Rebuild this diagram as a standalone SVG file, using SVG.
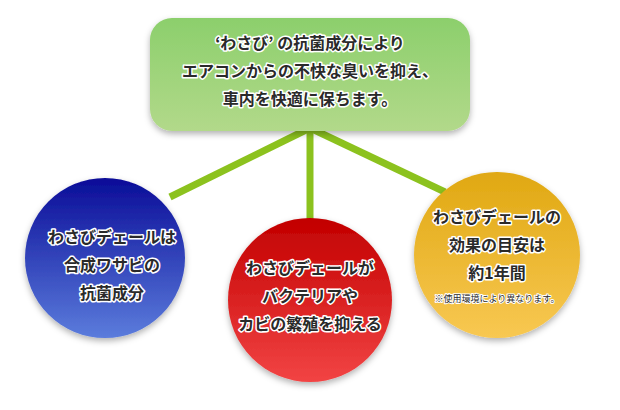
<svg xmlns="http://www.w3.org/2000/svg" width="620" height="410" viewBox="0 0 620 410">
<defs>
<linearGradient id="gG" x1="0" y1="0" x2="0" y2="1"><stop offset="0" stop-color="#8ccf6c"/><stop offset="1" stop-color="#b2d98a"/></linearGradient>
<linearGradient id="gB" x1="0" y1="0" x2="0" y2="1"><stop offset="0" stop-color="#0a0c98"/><stop offset="1" stop-color="#5b7cdc"/></linearGradient>
<linearGradient id="gR" x1="0" y1="0" x2="0" y2="1"><stop offset="0" stop-color="#c20000"/><stop offset="1" stop-color="#f24444"/></linearGradient>
<linearGradient id="gY" x1="0" y1="0" x2="0" y2="1"><stop offset="0" stop-color="#e0a812"/><stop offset="1" stop-color="#f8c852"/></linearGradient>
<filter id="sh" x="-20%" y="-20%" width="140%" height="150%"><feDropShadow dx="0" dy="3" stdDeviation="3" flood-color="#000" flood-opacity="0.3"/></filter>
</defs>
<style>
text{font-family:"Noto Sans CJK JP","Noto Sans CJK SC",sans-serif;font-weight:bold;fill:#2a2a2a;text-anchor:middle;stroke:#fff;stroke-width:3;paint-order:stroke;stroke-linejoin:round}
.t{font-size:16px}
.s{font-size:9px;stroke-width:2;font-weight:normal}
.c{stroke:#8cc21e;stroke-width:7;fill:none}
</style>
<g id="connectors">
<line class="c" x1="310" y1="128" x2="170" y2="197"/>
<line class="c" x1="310" y1="128" x2="310" y2="220"/>
<line class="c" x1="310" y1="128" x2="445" y2="192"/>
</g>
<g id="top">
<rect x="150" y="18" width="320" height="113" rx="22" fill="url(#gG)" filter="url(#sh)"/>
<text class="t" x="310" y="49">‘わさび’ の抗菌成分により</text>
<text class="t" x="310" y="77">エアコンからの不快な臭いを抑え、</text>
<text class="t" x="310" y="105">車内を快適に保ちます。</text>
</g>
<g id="blue">
<circle cx="105" cy="258" r="80" fill="url(#gB)" filter="url(#sh)"/>
<text class="t" x="112" y="243">わさびデェールは</text>
<text class="t" x="112" y="271">合成ワサビの</text>
<text class="t" x="112" y="299">抗菌成分</text>
</g>
<g id="red">
<circle cx="310" cy="300" r="82" fill="url(#gR)" filter="url(#sh)"/>
<text class="t" x="310" y="274">わさびデェールが</text>
<text class="t" x="310" y="302">バクテリアや</text>
<text class="t" x="310" y="330">カビの繁殖を抑える</text>
</g>
<g id="yellow">
<circle cx="497" cy="255" r="83" fill="url(#gY)" filter="url(#sh)"/>
<text class="t" x="497" y="223">わさびデェールの</text>
<text class="t" x="497" y="251">効果の目安は</text>
<text class="t" x="497" y="279">約1年間</text>
<text class="s" x="497" y="302">※使用環境により異なります。</text>
</g>
</svg>
